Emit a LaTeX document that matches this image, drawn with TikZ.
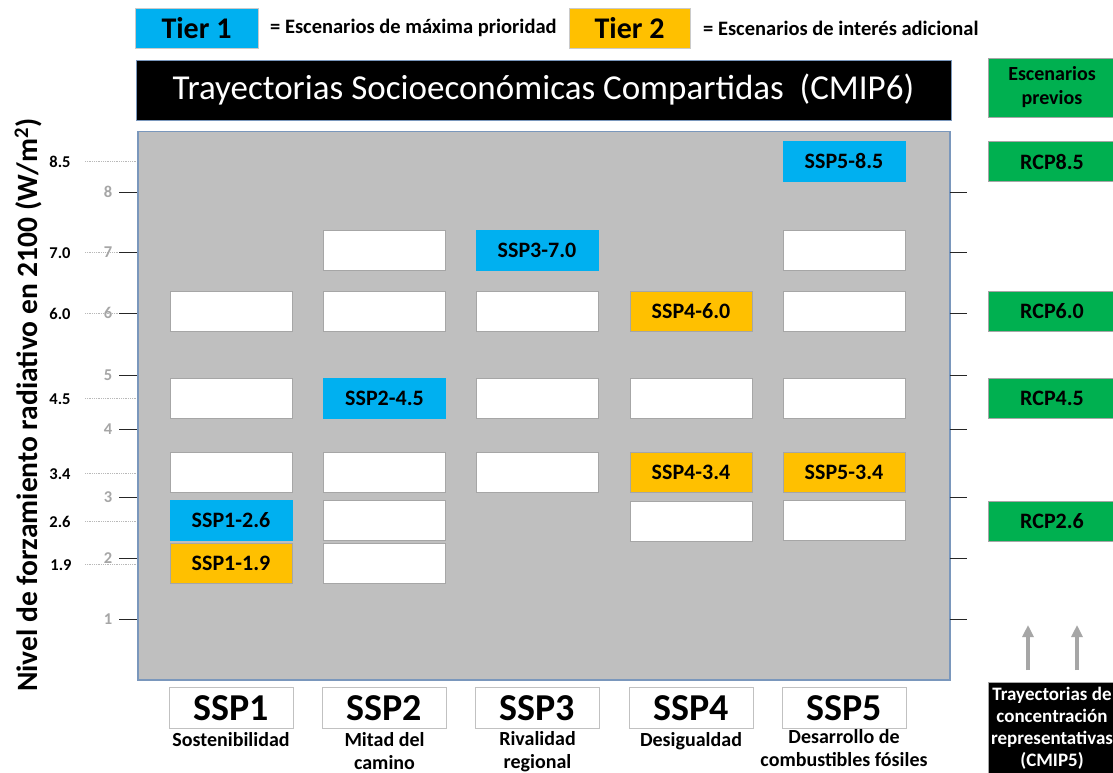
\documentclass[tikz,border=0pt]{standalone}
\usepackage{fontspec}
\setmainfont{Carlito}
\usetikzlibrary{arrows.meta}
\definecolor{tierone}{HTML}{00B0F0}
\definecolor{tiertwo}{HTML}{FFC000}
\definecolor{rcpgreen}{HTML}{00B050}
\definecolor{panelgray}{HTML}{BFBFBF}
\definecolor{paneledge}{HTML}{7A97BC}
\definecolor{boxedge}{HTML}{A6A6A6}
\definecolor{ticklabel}{HTML}{A6A6A6}
\definecolor{arrowgray}{HTML}{A6A6A6}
\begin{document}
\begin{tikzpicture}[x=1pt,y=-1pt,
  scen/.style={rectangle,minimum width=122pt,minimum height=40pt,inner sep=0pt,draw=boxedge,line width=0.8pt,font=\fontsize{22}{24}\selectfont\bfseries},
  blank/.style={scen,fill=white},
  tierA/.style={scen,fill=tierone,draw=tierone},
  tierB/.style={scen,fill=tiertwo},
  rcp/.style={rectangle,minimum width=128pt,minimum height=40pt,inner sep=0pt,fill=rcpgreen,draw=boxedge,line width=0.8pt,font=\fontsize{22}{24}\selectfont\bfseries},
  sspbox/.style={rectangle,minimum width=124pt,minimum height=41pt,inner sep=0pt,fill=white,draw=boxedge!70,line width=0.8pt,font=\fontsize{38}{40}\selectfont\bfseries},
  sspcaption/.style={anchor=north,align=center,inner sep=0pt,font=\fontsize{20}{23}\selectfont\bfseries},
  ticklbl/.style={text=ticklabel,inner sep=0pt,font=\fontsize{16.5}{18}\selectfont\bfseries},
  vallbl/.style={inner sep=0pt,font=\fontsize{16.5}{18}\selectfont\bfseries},
  legendtxt/.style={anchor=west,inner sep=0pt,font=\fontsize{20.5}{22}\selectfont\bfseries},
  tickline/.style={black!85,line width=1pt},
  refline/.style={gray!55,densely dotted,line width=0.8pt},
  uparrow/.style={arrowgray,line width=4pt,-{Triangle[width=11pt,length=12pt]}}
]
\fill[white] (0,0) rectangle (1113,773);
\useasboundingbox (0,0) rectangle (1113,773);

% legend
\node[scen,fill=tierone,draw=boxedge!60,minimum width=123pt,font=\fontsize{30}{32}\selectfont\bfseries] (tier1) at (196.5,28) {Tier 1};
\node[legendtxt] (leg1) at (270,28) {= Escenarios de máxima prioridad};
\node[scen,fill=tiertwo,draw=boxedge!60,minimum width=121pt,font=\fontsize{30}{32}\selectfont\bfseries] (tier2) at (629.5,28) {Tier 2};
\node[legendtxt] (leg2) at (703,28) {= Escenarios de interés adicional};

% title
\node[rectangle,fill=black,draw=paneledge,line width=0.8pt,minimum width=815pt,minimum height=60pt,inner sep=0pt,text=white,font=\fontsize{35}{37}\selectfont] (title) at (543.5,90) {Trayectorias Socioeconómicas Compartidas\ \ (CMIP6)};
\node[rectangle,fill=rcpgreen,draw=boxedge,line width=0.8pt,minimum width=128pt,minimum height=59pt,inner sep=0pt,align=center,font=\fontsize{20}{24}\selectfont\bfseries] (prev) at (1052,87.5) {Escenarios\\previos};

% panel
\node[rectangle,draw=paneledge,fill=panelgray,line width=1.5pt,minimum width=812pt,minimum height=548pt,inner sep=0pt,anchor=north west] (panel) at (137,131) {};

% reference lines and labels
\foreach \y/\t/\lx in {161/8.5/60, 252/7.0/60, 313/6.0/60, 398/4.5/60, 473/3.4/60, 521/2.6/60, 564/1.9/61} {
  \draw[refline] (85,\y) -- (136,\y);
  \node[vallbl] at (\lx,\y+1) {\t};
}
% ticks
\foreach \v/\y in {8/192,7/252,6/313,5/375,4/429,3/497,2/558,1/619} {
  \draw[tickline] (119,\y) -- (136.5,\y);
  \draw[tickline] (949.5,\y) -- (967,\y);
  \node[ticklbl] at (108,\y) {\v};
}

% y axis label
\node[rotate=90,inner sep=0pt,font=\fontsize{29.5}{30}\selectfont\bfseries] (ylab) at (28,405) {Nivel de forzamiento radiativo en 2100 (W/m\textsuperscript{2})};

% SSP1
\node[blank] (s1r60) at (231,311.5) {};
\node[blank] (s1r45) at (231,398) {};
\node[blank] (s1r34) at (231,472.5) {};
\node[tierA] (s1r26) at (231,520.5) {SSP1-2.6};
\node[tierB] (s1r19) at (231,563.5) {SSP1-1.9};
% SSP2
\node[blank] (s2r70) at (384.5,250) {};
\node[blank] (s2r60) at (384.5,311.5) {};
\node[tierA] (s2r45) at (384.5,398) {SSP2-4.5};
\node[blank] (s2r34) at (384.5,472.5) {};
\node[blank] (s2r26) at (384.5,520.5) {};
\node[blank] (s2r19) at (384.5,563.5) {};
% SSP3
\node[tierA] (s3r70) at (537,250) {SSP3-7.0};
\node[blank] (s3r60) at (537,311.5) {};
\node[blank] (s3r45) at (537,398) {};
\node[blank] (s3r34) at (537,472.5) {};
% SSP4
\node[tierB] (s4r60) at (691,311.5) {SSP4-6.0};
\node[blank] (s4r45) at (691,398) {};
\node[tierB] (s4r34) at (691,472.5) {SSP4-3.4};
\node[blank] (s4r26) at (691,521.5) {};
% SSP5
\node[tierA] (s5r85) at (844,161) {SSP5-8.5};
\node[blank] (s5r70) at (844,250) {};
\node[blank] (s5r60) at (844,311.5) {};
\node[blank] (s5r45) at (844,398) {};
\node[tierB] (s5r34) at (844,472.5) {SSP5-3.4};
\node[blank] (s5r26) at (844,520.5) {};

% RCP boxes
\node[rcp] (rcp85) at (1052,161.5) {RCP8.5};
\node[rcp] (rcp60) at (1052,311.5) {RCP6.0};
\node[rcp] (rcp45) at (1052,398) {RCP4.5};
\node[rcp] (rcp26) at (1052,521) {RCP2.6};

% bottom SSP labels
\node[sspbox] (ssp1) at (231,708) {SSP1};
\node[sspbox] (ssp2) at (384.5,708) {SSP2};
\node[sspbox] (ssp3) at (537.5,708) {SSP3};
\node[sspbox] (ssp4) at (691,708) {SSP4};
\node[sspbox] (ssp5) at (844,708) {SSP5};
\node[sspcaption] (cap1) at (231,732) {Sostenibilidad};
\node[sspcaption] (cap2) at (384.5,732) {Mitad del\\camino};
\node[sspcaption] (cap3) at (537.5,731) {Rivalidad\\regional};
\node[sspcaption] (cap4) at (691,732) {Desigualdad};
\node[sspcaption] (cap5) at (844,729) {Desarrollo de\\combustibles fósiles};

% CMIP5 box
\node[rectangle,fill=black,draw=boxedge,line width=0.8pt,minimum width=128pt,minimum height=92pt,inner sep=0pt,anchor=north,align=center,text=white,font=\fontsize{19}{22}\selectfont\bfseries] (cmip5) at (1052,682) {Trayectorias de\\concentración\\representativas\\(CMIP5)};

% arrows
\coordinate (a1s) at (1028,670);
\coordinate (a1e) at (1028,625);
\coordinate (a2s) at (1077,670);
\coordinate (a2e) at (1077,625);
\draw[uparrow] (a1s) -- (a1e);
\draw[uparrow] (a2s) -- (a2e);
\end{tikzpicture}
\end{document}
